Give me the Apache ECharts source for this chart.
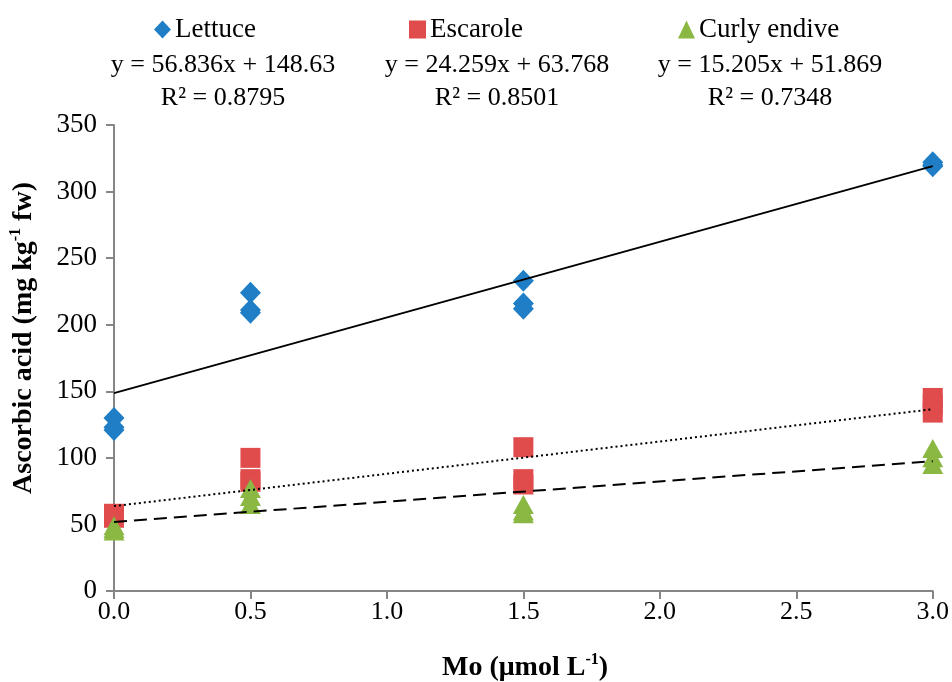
<!DOCTYPE html>
<html>
<head>
<meta charset="utf-8">
<script src="https://cdn.jsdelivr.net/npm/echarts@6/dist/echarts.min.js"></script>
<style>
html,body{margin:0;padding:0;background:#fff;}
#chart{width:952px;height:682px;}
</style>
</head>
<body>
<div id="chart"></div>
<script>
// ---- data ----
const seriesNames = ['Lettuce', 'Escarole', 'Curly endive'];
const doses = [0, 0, 0, 0.5, 0.5, 0.5, 1.5, 1.5, 1.5, 3, 3, 3];
const lettuce = [130, 123, 121, 224, 211, 209, 233, 216, 212, 322, 320, 319];
const escarole = [58, 56, 55, 100, 84, 82, 108, 84, 80, 145, 140, 134];
const endive = [49, 47, 45, 77, 71, 65, 65, 60, 58, 107, 100, 95];
const slopes = [56.836, 24.259, 15.205];
const intercepts = [148.63, 63.768, 51.869];
const equations = ['y = 56.836x + 148.63', 'y = 24.259x + 63.768', 'y = 15.205x + 51.869'];
const r2Labels = ['R² = 0.8795', 'R² = 0.8501', 'R² = 0.7348'];
const xTicks = [0, 0.5, 1, 1.5, 2, 2.5, 3];
const yTicks = [0, 50, 100, 150, 200, 250, 300, 350];

const colors = ['#1F7EC5', '#E04B4B', '#8AB843'];
const symbols = ['diamond', 'rect', 'triangle'];
const symbolSizes = [[21, 22], [20, 20], [21, 19]];
const lineTypes = ['solid', [2, 3], [13, 7]];
const FONT = 'Liberation Serif';

const values = [lettuce, escarole, endive];
const chart = echarts.init(document.getElementById('chart'));

const scatterSeries = seriesNames.map((n, i) => ({
  name: n,
  type: 'scatter',
  symbol: symbols[i],
  symbolSize: symbolSizes[i],
  itemStyle: { color: colors[i], opacity: 1 },
  data: doses.map((d, k) => [d, values[i][k]]),
  z: 2
}));
const xMin = xTicks[0], xMax = xTicks[xTicks.length - 1];
const lineSeries = seriesNames.map((n, i) => ({
  name: n + ' trend',
  type: 'line',
  symbol: 'none',
  silent: true,
  lineStyle: { color: '#000', width: 2, type: lineTypes[i] },
  data: [[xMin, intercepts[i] + slopes[i] * xMin], [xMax, intercepts[i] + slopes[i] * xMax]],
  z: 5
}));

const legendLefts = [149, 404, 673];
const eqCenters = [223, 497, 770];
const titleRich = {
  b: { fontFamily: FONT, fontSize: 28, fontWeight: 'bold', fill: '#000', lineHeight: 32 },
  s: { fontFamily: FONT, fontSize: 16, fontWeight: 'bold', fill: '#000', verticalAlign: 'top', lineHeight: 32, padding: [0, 0, 14, 0] }
};

const graphics = [];
seriesNames.forEach((n, i) => {
  graphics.push({ type: 'text', x: eqCenters[i], y: 52, style: { text: equations[i], font: '26px "' + FONT + '"', fill: '#000', textAlign: 'center' } });
  graphics.push({ type: 'text', x: eqCenters[i], y: 85, style: { text: r2Labels[i], font: '26px "' + FONT + '"', fill: '#000', textAlign: 'center' } });
});
graphics.push({
  type: 'text', x: 24, y: 338, rotation: Math.PI / 2,
  style: { text: '{b|Ascorbic acid (mg kg}{s|-1}{b| fw)}', rich: titleRich, textAlign: 'center', textVerticalAlign: 'middle' }
});
graphics.push({
  type: 'text', x: 525, y: 668,
  style: { text: '{b|Mo (μmol L}{s|-1}{b|)}', rich: titleRich, textAlign: 'center', textVerticalAlign: 'middle' }
});

const option = {
  animation: false,
  backgroundColor: '#fff',
  textStyle: { fontFamily: FONT },
  grid: { left: 114, right: 19, top: 125, bottom: 91, containLabel: false },
  legend: seriesNames.map((n, i) => ({
    data: [n],
    left: legendLefts[i],
    top: 11,
    itemWidth: 17,
    itemHeight: 18,
    itemGap: 0,
    textStyle: { fontFamily: FONT, fontSize: 27, color: '#000', padding: [0, 0, 0, -1] },
    selectedMode: false
  })),
  graphic: graphics,
  xAxis: {
    type: 'value',
    min: xMin, max: xMax, interval: 0.5,
    splitLine: { show: false },
    axisLine: { lineStyle: { color: '#868686', width: 2 } },
    axisTick: { show: true, length: 8, lineStyle: { color: '#868686', width: 2 } },
    axisLabel: { fontFamily: FONT, fontSize: 26, color: '#000', margin: 8, formatter: v => v.toFixed(1) }
  },
  yAxis: {
    type: 'value',
    min: yTicks[0], max: yTicks[yTicks.length - 1], interval: 50,
    splitLine: { show: false },
    axisLine: { show: true, lineStyle: { color: '#868686', width: 2 } },
    axisTick: { show: true, length: 8, lineStyle: { color: '#868686', width: 2 } },
    axisLabel: { fontFamily: FONT, fontSize: 27, color: '#000', margin: 17 }
  },
  series: scatterSeries.concat(lineSeries)
};
chart.setOption(option);
</script>
</body>
</html>
